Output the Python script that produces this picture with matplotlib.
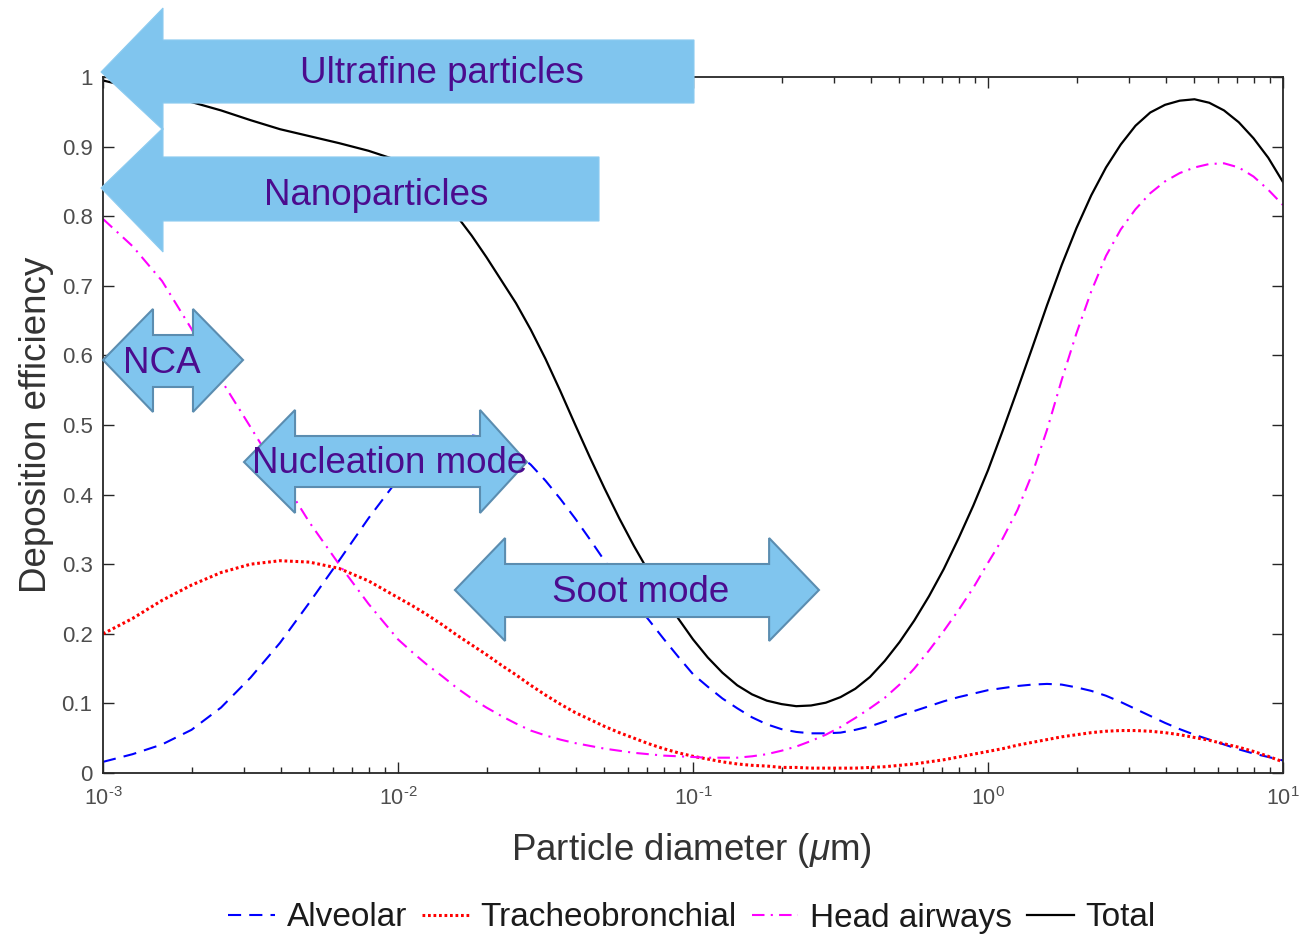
import matplotlib
matplotlib.use('Agg')
import matplotlib.pyplot as plt
from matplotlib.patches import Polygon
from matplotlib.ticker import FixedLocator, FixedFormatter, LogLocator, NullFormatter

plt.rcParams['font.family'] = ['Liberation Sans', 'DejaVu Sans']
plt.rcParams['mathtext.fontset'] = 'custom'
plt.rcParams['mathtext.rm'] = 'Liberation Sans'
plt.rcParams['mathtext.it'] = 'Liberation Sans:italic'
plt.rcParams['mathtext.bf'] = 'Liberation Sans:bold'

# ---------------- data ----------------
log_diameter = [-3.0, -2.9, -2.8, -2.7, -2.6, -2.5, -2.4, -2.3, -2.2, -2.1,
                -2.0, -1.95, -1.9, -1.85, -1.8, -1.75, -1.7, -1.65, -1.6, -1.55,
                -1.5, -1.45, -1.4, -1.35, -1.3, -1.25, -1.2, -1.15, -1.1, -1.05,
                -1.0, -0.95, -0.9, -0.85, -0.8, -0.75, -0.7, -0.65, -0.6, -0.55,
                -0.5, -0.45, -0.4, -0.35, -0.3, -0.25, -0.2, -0.15, -0.1, -0.05,
                0.0, 0.05, 0.1, 0.15, 0.2, 0.25, 0.3, 0.35, 0.4, 0.45,
                0.5, 0.55, 0.6, 0.65, 0.7, 0.75, 0.8, 0.85, 0.9, 0.95, 1.0]
diameter = [10 ** e for e in log_diameter]

alveolar = [0.016, 0.027, 0.041, 0.062, 0.094, 0.137, 0.187, 0.245, 0.305, 0.366,
            0.422, 0.446, 0.464, 0.476, 0.483, 0.485, 0.482, 0.473, 0.460, 0.443,
            0.420, 0.394, 0.366, 0.336, 0.305, 0.275, 0.246, 0.220, 0.193, 0.167,
            0.142, 0.124, 0.107, 0.093, 0.080, 0.070, 0.063, 0.059, 0.057, 0.057,
            0.058, 0.062, 0.067, 0.074, 0.082, 0.089, 0.096, 0.103, 0.109, 0.114,
            0.119, 0.122, 0.125, 0.127, 0.128, 0.127, 0.123, 0.118, 0.111, 0.102,
            0.092, 0.082, 0.072, 0.063, 0.055, 0.048, 0.041, 0.034, 0.028, 0.023, 0.018]

tracheobronchial = [0.200, 0.222, 0.248, 0.270, 0.288, 0.300, 0.305, 0.303, 0.294, 0.276,
                    0.252, 0.240, 0.227, 0.213, 0.198, 0.184, 0.170, 0.155, 0.141, 0.126,
                    0.112, 0.099, 0.087, 0.077, 0.067, 0.058, 0.050, 0.042, 0.035, 0.029,
                    0.024, 0.020, 0.016, 0.013, 0.011, 0.010, 0.008, 0.008, 0.007, 0.007,
                    0.007, 0.007, 0.008, 0.009, 0.011, 0.013, 0.016, 0.019, 0.023, 0.027,
                    0.031, 0.035, 0.040, 0.044, 0.048, 0.052, 0.055, 0.058, 0.060, 0.061,
                    0.061, 0.060, 0.058, 0.055, 0.051, 0.047, 0.042, 0.037, 0.031, 0.024, 0.016]

head_airways = [0.796, 0.757, 0.707, 0.638, 0.565, 0.497, 0.428, 0.360, 0.300, 0.243,
                0.192, 0.173, 0.155, 0.139, 0.122, 0.107, 0.094, 0.082, 0.071, 0.061,
                0.054, 0.048, 0.043, 0.039, 0.035, 0.032, 0.029, 0.027, 0.025, 0.024,
                0.023, 0.022, 0.022, 0.022, 0.024, 0.027, 0.032, 0.038, 0.046, 0.055,
                0.066, 0.079, 0.093, 0.108, 0.127, 0.150, 0.176, 0.204, 0.234, 0.266,
                0.302, 0.337, 0.378, 0.430, 0.493, 0.565, 0.632, 0.692, 0.743, 0.781,
                0.810, 0.833, 0.850, 0.862, 0.870, 0.875, 0.876, 0.870, 0.857, 0.838, 0.816]

total = [0.995, 0.985, 0.975, 0.964, 0.952, 0.938, 0.925, 0.915, 0.905, 0.894,
         0.880, 0.866, 0.848, 0.826, 0.800, 0.772, 0.741, 0.708, 0.675, 0.637,
         0.595, 0.549, 0.501, 0.454, 0.409, 0.366, 0.326, 0.289, 0.255, 0.222,
         0.192, 0.166, 0.144, 0.126, 0.113, 0.104, 0.099, 0.096, 0.097, 0.101,
         0.109, 0.121, 0.138, 0.161, 0.188, 0.219, 0.254, 0.293, 0.337, 0.384,
         0.435, 0.492, 0.551, 0.611, 0.672, 0.730, 0.783, 0.830, 0.870, 0.903,
         0.930, 0.949, 0.960, 0.966, 0.968, 0.963, 0.952, 0.935, 0.912, 0.884, 0.849]

series_labels = ['Alveolar', 'Tracheobronchial', 'Head airways', 'Total']
x_tick_values = [1e-3, 1e-2, 1e-1, 1e0, 1e1]
x_tick_labels = ['$10^{\\text{-}3}$', '$10^{\\text{-}2}$', '$10^{\\text{-}1}$', '$10^{0}$', '$10^{1}$']
y_tick_values = [0, 0.1, 0.2, 0.3, 0.4, 0.5, 0.6, 0.7, 0.8, 0.9, 1.0]
y_tick_labels = ['0', '0.1', '0.2', '0.3', '0.4', '0.5', '0.6', '0.7', '0.8', '0.9', '1']

# ---------------- figure ----------------
W, H = 1306, 944
fig = plt.figure(figsize=(W / 100, H / 100), dpi=100)
fig.patch.set_facecolor('white')
ax = fig.add_axes([103 / W, (H - 773) / H, 1180 / W, 696 / H])

ax.plot(diameter, alveolar, color='#0000FF', lw=1.5, dashes=(6.3, 3.9), label=series_labels[0])
ax.plot(diameter, tracheobronchial, color='#FF0000', lw=2.2, dashes=(0.9, 0.9), label=series_labels[1])
ax.plot(diameter, head_airways, color='#FF00FF', lw=1.5, dashes=(6.0, 3.0, 1.0, 3.0), label=series_labels[2])
ax.plot(diameter, total, color='#000000', lw=1.6, label=series_labels[3])

ax.set_xscale('log')
ax.set_xlim(1e-3, 10)
ax.set_ylim(0, 1)

ax.xaxis.set_major_locator(FixedLocator(x_tick_values))
ax.xaxis.set_major_formatter(FixedFormatter(x_tick_labels))
ax.xaxis.set_minor_locator(LogLocator(base=10, subs=[2, 3, 4, 5, 6, 7, 8, 9]))
ax.xaxis.set_minor_formatter(NullFormatter())
ax.yaxis.set_major_locator(FixedLocator(y_tick_values))
ax.yaxis.set_major_formatter(FixedFormatter(y_tick_labels))

spine_col = '#262626'
for s in ax.spines.values():
    s.set_color(spine_col)
    s.set_linewidth(1.3)
ax.tick_params(which='both', direction='in', top=True, right=True, color=spine_col, width=1.0)
ax.tick_params(which='major', length=8)
ax.tick_params(which='minor', length=4.5)
ax.tick_params(axis='x', which='major', labelsize=15.5, labelcolor='#4d4d4d', pad=10)
ax.tick_params(axis='y', which='major', labelsize=16, labelcolor='#4d4d4d', pad=7.5)

ax.set_xlabel('Particle diameter ($\\mu$m)', fontsize=26.5, color='#333333')
ax.xaxis.label.set_va('baseline')
ax.xaxis.set_label_coords(0.499, -(860 - 773) / 696)
ax.set_ylabel('Deposition efficiency', fontsize=26.5, color='#333333')
ax.yaxis.label.set_va('baseline')
ax.yaxis.set_label_coords(-(103 - 46) / 1180, 0.5)

leg = fig.legend(loc='center', bbox_to_anchor=(692 / W, 1 - 918 / H), ncol=4, frameon=False,
                 fontsize=24, handlelength=1.4, handletextpad=0.35, columnspacing=0.45,
                 borderpad=0, borderaxespad=0)
for t in leg.get_texts():
    t.set_color('#1a1a1a')

# ---------------- annotation arrows ----------------
fill_col = '#80C5EE'
edge_col = '#5B8DB0'
text_col = '#4B0C8E'


def to_data(pts):
    return [(10 ** lx, y) for lx, y in pts]


def left_arrow(xt, xb, xe, yc, yh, yb):
    return [(xt, yc), (xb, yh[1]), (xb, yb[1]), (xe, yb[1]), (xe, yb[0]), (xb, yb[0]), (xb, yh[0])]


def double_arrow(xl, xlb, xrb, xr, yc, yh, yb):
    return [(xl, yc), (xlb, yh[1]), (xlb, yb[1]), (xrb, yb[1]), (xrb, yh[1]), (xr, yc),
            (xrb, yh[0]), (xrb, yb[0]), (xlb, yb[0]), (xlb, yh[0])]


single_arrows = [
    dict(geom=(-3.0068, -2.7966, -0.9966, 1.0072, (0.9239, 1.0991), (0.9626, 1.0532)),
         text='Ultrafine particles', tpos=(-1.8525, 0.9914)),
    dict(geom=(-3.0068, -2.7966, -1.3186, 0.8405, (0.7486, 0.9267), (0.7931, 0.8851)),
         text='Nanoparticles', tpos=(-2.0746, 0.816)),
]
double_arrows = [
    dict(geom=(-3.0, -2.8305, -2.695, -2.5254, 0.5934, (0.5187, 0.6667), (0.5546, 0.6293)),
         text='NCA', tpos=(-2.80, 0.5747)),
    dict(geom=(-2.522, -2.349, -1.722, -1.563, 0.4468, (0.3736, 0.5216), (0.4109, 0.4842)),
         text='Nucleation mode', tpos=(-2.0271, 0.431)),
    dict(geom=(-1.807, -1.637, -0.742, -0.573, 0.2629, (0.1897, 0.3376), (0.2241, 0.3003)),
         text='Soot mode', tpos=(-1.178, 0.246)),
]

for a in single_arrows:
    poly = Polygon(to_data(left_arrow(*a['geom'])), closed=True, facecolor=fill_col,
                   edgecolor='#8ccbf0', lw=0.8, zorder=10, clip_on=False)
    ax.add_patch(poly)
    ax.text(10 ** a['tpos'][0], a['tpos'][1], a['text'], fontsize=26.5, color=text_col,
            ha='center', va='baseline', zorder=11, clip_on=False)

for a in double_arrows:
    poly = Polygon(to_data(double_arrow(*a['geom'])), closed=True, facecolor=fill_col,
                   edgecolor=edge_col, lw=1.5, zorder=10, clip_on=False)
    ax.add_patch(poly)
    ax.text(10 ** a['tpos'][0], a['tpos'][1], a['text'], fontsize=26.5, color=text_col,
            ha='center', va='baseline', zorder=11, clip_on=False)

fig.savefig('out.png', dpi=100, facecolor='white')
